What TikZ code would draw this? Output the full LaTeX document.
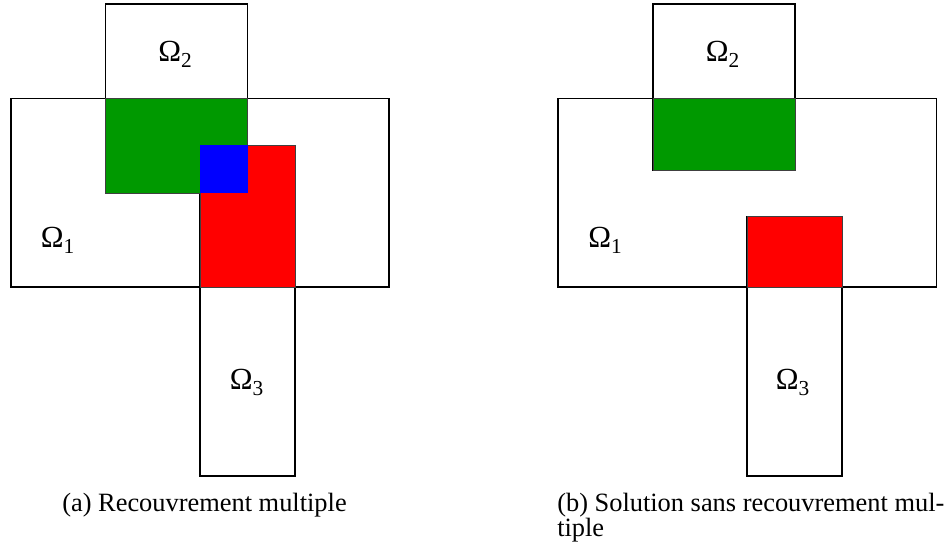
\documentclass[tikz,border=0pt]{standalone}
\usepackage{fontspec}
\setmainfont{Liberation Serif}
\newcommand\omlabel[1]{Ω\raisebox{-0.17em}{\fontsize{16}{16}\selectfont #1}}
\definecolor{ovgreen}{RGB}{0,153,0}
\definecolor{ovred}{RGB}{255,0,0}
\definecolor{ovblue}{RGB}{0,0,255}
\tikzset{
  dom/.style={draw=black,line width=1.1pt},
  ovl/.style={draw=black!75,line width=0.4pt},
  lbl/.style={inner sep=0pt,anchor=base west,font=\fontsize{23}{23}\selectfont},
  captext/.style={inner sep=0pt,anchor=base west,font=\fontsize{19.8}{18.75}\selectfont}
}
\begin{document}
\begin{tikzpicture}[x=0.75pt,y=-0.75pt]
\useasboundingbox (0,0) rectangle (947,552);
% ---------- (a) ----------
\draw[dom] (11,98.5) rectangle (389,287);
\draw[dom] (105.5,4) rectangle (247.5,193);
\draw[dom] (200,145.5) rectangle (295,476);
\fill[ovgreen,ovl] (105.5,98.5) rectangle (247.5,193);
\fill[ovred,ovl] (200,145.5) rectangle (295,287);
\fill[ovblue] (200,145.5) rectangle (247.5,193);
\node[lbl] (a2) at (158,62) {\omlabel{2}};
\node[lbl] (a1) at (40.5,248) {\omlabel{1}};
\node[lbl] (a3) at (229.5,390) {\omlabel{3}};
\node[captext] (capa) at (62,512) {(a) Recouvrement multiple};
% ---------- (b) ----------
\draw[dom] (558,98.5) rectangle (936.5,287);
\draw[dom] (653,4) rectangle (795,170);
\draw[dom] (747,216.5) rectangle (842,476);
\fill[ovgreen,ovl] (653,98.5) rectangle (795,170);
\fill[ovred,ovl] (747,216.5) rectangle (842,287);
\node[lbl] (b2) at (705.5,62) {\omlabel{2}};
\node[lbl] (b1) at (588,248) {\omlabel{1}};
\node[lbl] (b3) at (775.5,390) {\omlabel{3}};
\node[captext] (capb1) at (557,512) {(b) Solution sans recouvrement mul-};
\node[captext] (capb2) at (557,537) {tiple};
\end{tikzpicture}
\end{document}
